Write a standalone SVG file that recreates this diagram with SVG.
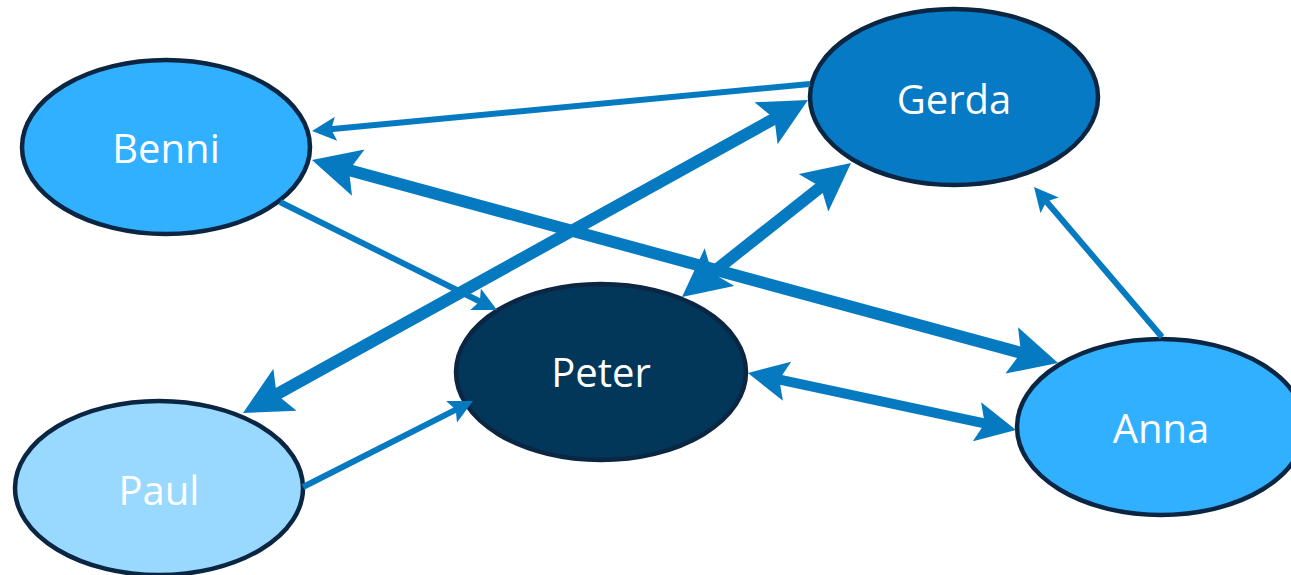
<svg xmlns="http://www.w3.org/2000/svg" width="1291" height="575" viewBox="0 0 1291 575">
<style>
.node{stroke:#0B2642;stroke-width:4.5}
.lbl{font-family:"Open Sans","Noto Sans",sans-serif;font-size:40px;fill:#FFFFFF;text-anchor:middle}
.edge{stroke:#067AC1;fill:none;stroke-linecap:butt}
</style>
<defs>
<marker id="ah" markerUnits="strokeWidth" viewBox="0 -2 4 4" refX="1" refY="0" markerWidth="4" markerHeight="4" orient="auto-start-reverse">
<path d="M0,-2 L4,0 L0,2 L0.8,0 Z" fill="#067AC1"/>
</marker>
</defs>
<g id="node-benni"><ellipse class="node" cx="166" cy="147" rx="144" ry="87" fill="#30B0FF"/><text class="lbl" x="166" y="163">Benni</text></g>
<g id="node-gerda"><ellipse class="node" cx="954" cy="97" rx="144" ry="88" fill="#067AC4"/><text class="lbl" x="954" y="114">Gerda</text></g>
<g id="node-peter"><ellipse class="node" cx="601" cy="372" rx="145" ry="88" fill="#02375A"/><text class="lbl" x="601" y="387">Peter</text></g>
<g id="node-paul"><ellipse class="node" cx="159" cy="488" rx="144" ry="87" fill="#99D8FF"/><text class="lbl" x="159" y="505">Paul</text></g>
<g id="node-anna"><ellipse class="node" cx="1161" cy="427" rx="144" ry="88" fill="#30B0FF"/><text class="lbl" x="1161" y="443">Anna</text></g>
<g id="connectors">
<line class="edge" x1="810" y1="84" x2="330" y2="129.3" stroke-width="6" marker-end="url(#ah)"/>
<line class="edge" x1="346.7" y1="169.5" x2="1023.3" y2="353.5" stroke-width="12" marker-start="url(#ah)" marker-end="url(#ah)"/>
<line class="edge" x1="274.5" y1="395.6" x2="776.5" y2="117.4" stroke-width="12" marker-start="url(#ah)" marker-end="url(#ah)"/>
<line class="edge" x1="710.2" y1="274.6" x2="822.8" y2="185.4" stroke-width="12" marker-start="url(#ah)" marker-end="url(#ah)"/>
<line class="edge" x1="280" y1="202" x2="480.9" y2="302" stroke-width="6" marker-end="url(#ah)"/>
<line class="edge" x1="303" y1="487" x2="456.9" y2="409.1" stroke-width="6" marker-end="url(#ah)"/>
<line class="edge" x1="777.3" y1="379.2" x2="986.7" y2="423.8" stroke-width="10" marker-start="url(#ah)" marker-end="url(#ah)"/>
<line class="edge" x1="1162" y1="337" x2="1045.7" y2="200.7" stroke-width="6" marker-end="url(#ah)"/>
</g>
</svg>
